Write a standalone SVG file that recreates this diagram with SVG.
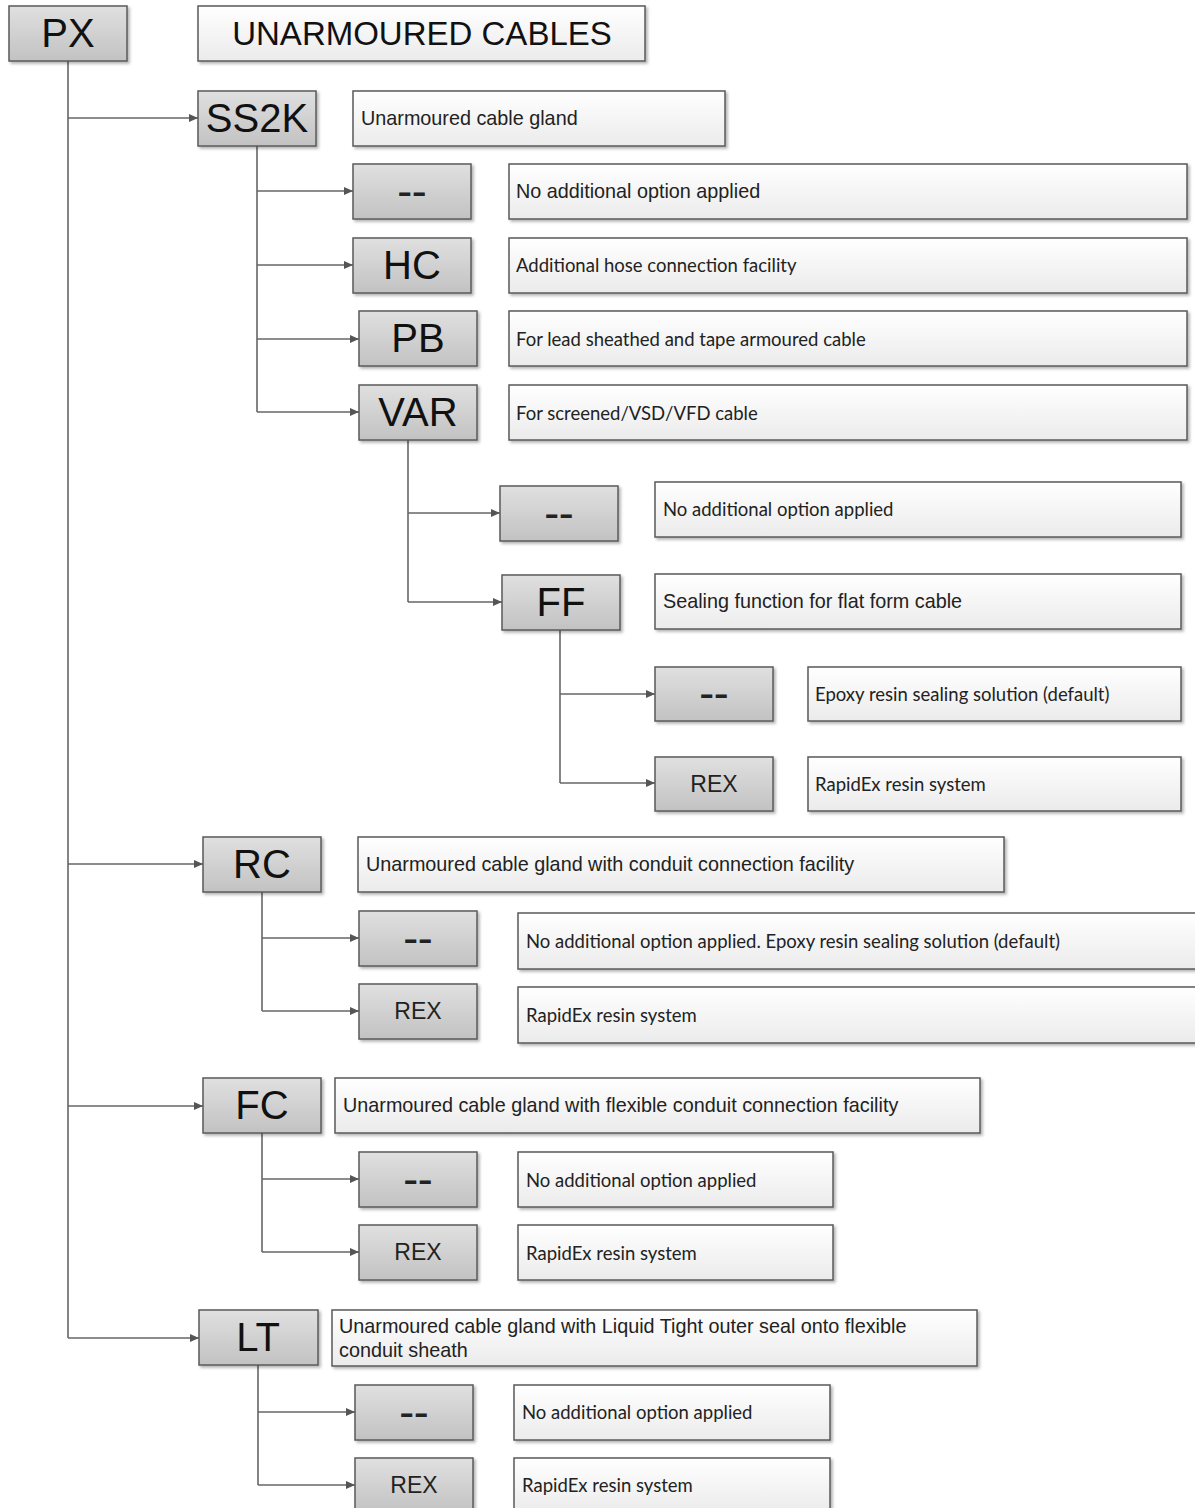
<svg xmlns="http://www.w3.org/2000/svg" width="1195" height="1508" viewBox="0 0 1195 1508">
<defs>
<linearGradient id="gg" x1="0" y1="0" x2="0" y2="1"><stop offset="0" stop-color="#e0e0e0"/><stop offset="1" stop-color="#c2c2c2"/></linearGradient>
<linearGradient id="wg" x1="0" y1="0" x2="0" y2="1"><stop offset="0" stop-color="#ffffff"/><stop offset="1" stop-color="#ebebeb"/></linearGradient>
<filter id="sh" x="-5%" y="-10%" width="115%" height="140%"><feDropShadow dx="2" dy="2" stdDeviation="1.5" flood-color="#000" flood-opacity="0.3"/></filter>
<marker id="ar" markerUnits="userSpaceOnUse" markerWidth="9" markerHeight="8" refX="9" refY="4" orient="auto"><path d="M0,0 L9,4 L0,8 z" fill="#555"/></marker>
<style>
.g{fill:url(#gg);stroke:#5a5a5a;stroke-width:1.5;filter:url(#sh)}
.w{fill:url(#wg);stroke:#5a5a5a;stroke-width:1.5;filter:url(#sh)}
.c{font-family:"Liberation Sans",Arial,sans-serif;font-size:40px;text-anchor:middle;fill:#111}
.dash{font-family:"Liberation Sans",Arial,sans-serif;font-size:30px;font-weight:bold;text-anchor:middle;fill:#222}
.rex{font-family:"Liberation Sans",Arial,sans-serif;font-size:23px;text-anchor:middle;fill:#222}
.t{font-family:"Liberation Sans",Arial,sans-serif;font-size:33px;text-anchor:middle;fill:#111}
.a{font-family:"Liberation Sans",Arial,sans-serif;font-size:19.8px;fill:#222}
.b{font-family:Lato,"Open Sans",sans-serif;font-size:18.5px;fill:#222}
.ln{fill:none;stroke:#666;stroke-width:1.6}
.ln.r{marker-end:url(#ar)}
</style>
</defs>
<g id="connectors">
<path class="ln" d="M68 61 V1338"/>
<path class="ln r" d="M68 118 H198"/>
<path class="ln r" d="M68 864 H203"/>
<path class="ln r" d="M68 1106 H203"/>
<path class="ln r" d="M68 1338 H199"/>
<path class="ln" d="M257 146 V412"/>
<path class="ln r" d="M257 191 H353"/>
<path class="ln r" d="M257 265 H353"/>
<path class="ln r" d="M257 339 H359"/>
<path class="ln r" d="M257 412 H359"/>
<path class="ln" d="M408 440 V602"/>
<path class="ln r" d="M408 513 H500"/>
<path class="ln r" d="M408 602 H502"/>
<path class="ln" d="M560 630 V783"/>
<path class="ln r" d="M560 694 H655"/>
<path class="ln r" d="M560 783 H655"/>
<path class="ln" d="M262 892 V1011"/>
<path class="ln r" d="M262 938 H359"/>
<path class="ln r" d="M262 1011 H359"/>
<path class="ln" d="M262 1133 V1252"/>
<path class="ln r" d="M262 1179 H359"/>
<path class="ln r" d="M262 1252 H359"/>
<path class="ln" d="M258 1365 V1485"/>
<path class="ln r" d="M258 1412 H355"/>
<path class="ln r" d="M258 1485 H355"/>
</g>
<g id="px"><rect class="g" x="9" y="6" width="118" height="55"/><text class="c" x="68" y="47">PX</text></g>
<g id="title"><rect class="w" x="198" y="6" width="447" height="55"/><text class="t" x="422" y="45">UNARMOURED CABLES</text></g>

<g id="ss2k"><rect class="g" x="198" y="91" width="118" height="55"/><text class="c" x="257" y="132">SS2K</text></g>
<g id="ss2k-desc"><rect class="w" x="353" y="91" width="372" height="55"/><text class="a" x="361" y="125">Unarmoured cable gland</text></g>

<g id="ss2k-none"><rect class="g" x="353" y="164" width="118" height="55"/><text class="dash" transform="translate(412,201.5) scale(1.45,1)">--</text></g>
<g id="ss2k-none-desc"><rect class="w" x="509" y="164" width="678" height="55"/><text class="a" x="516" y="198">No additional option applied</text></g>

<g id="hc"><rect class="g" x="353" y="238" width="118" height="55"/><text class="c" x="412" y="279">HC</text></g>
<g id="hc-desc"><rect class="w" x="509" y="238" width="678" height="55"/><text class="b" x="516" y="272">Additional hose connection facility</text></g>

<g id="pb"><rect class="g" x="359" y="311" width="118" height="55"/><text class="c" x="418" y="352">PB</text></g>
<g id="pb-desc"><rect class="w" x="509" y="311" width="678" height="55"/><text class="b" x="516" y="346">For lead sheathed and tape armoured cable</text></g>

<g id="var"><rect class="g" x="359" y="385" width="118" height="55"/><text class="c" x="418" y="426">VAR</text></g>
<g id="var-desc"><rect class="w" x="509" y="385" width="678" height="55"/><text class="b" x="516" y="420">For screened/VSD/VFD cable</text></g>

<g id="var-none"><rect class="g" x="500" y="486" width="118" height="55"/><text class="dash" transform="translate(559,523.5) scale(1.45,1)">--</text></g>
<g id="var-none-desc"><rect class="w" x="655" y="482" width="526" height="55"/><text class="b" x="663" y="516">No additional option applied</text></g>

<g id="ff"><rect class="g" x="502" y="575" width="118" height="55"/><text class="c" x="561" y="616">FF</text></g>
<g id="ff-desc"><rect class="w" x="655" y="574" width="526" height="55"/><text class="a" x="663" y="608">Sealing function for flat form cable</text></g>

<g id="ff-none"><rect class="g" x="655" y="667" width="118" height="54"/><text class="dash" transform="translate(714,704) scale(1.45,1)">--</text></g>
<g id="ff-none-desc"><rect class="w" x="808" y="667" width="373" height="54"/><text class="b" x="815" y="701">Epoxy resin sealing solution (default)</text></g>

<g id="ff-rex"><rect class="g" x="655" y="757" width="118" height="54"/><text class="rex" x="714" y="792">REX</text></g>
<g id="ff-rex-desc"><rect class="w" x="808" y="757" width="373" height="54"/><text class="b" x="815" y="791">RapidEx resin system</text></g>

<g id="rc"><rect class="g" x="203" y="837" width="118" height="55"/><text class="c" x="262" y="878">RC</text></g>
<g id="rc-desc"><rect class="w" x="358" y="837" width="646" height="55"/><text class="a" x="366" y="871">Unarmoured cable gland with conduit connection facility</text></g>

<g id="rc-none"><rect class="g" x="359" y="911" width="118" height="55"/><text class="dash" transform="translate(418,948.5) scale(1.45,1)">--</text></g>
<g id="rc-none-desc"><rect class="w" x="518" y="913" width="690" height="56"/><text class="b" x="526" y="948">No additional option applied. Epoxy resin sealing solution (default)</text></g>

<g id="rc-rex"><rect class="g" x="359" y="984" width="118" height="55"/><text class="rex" x="418" y="1019">REX</text></g>
<g id="rc-rex-desc"><rect class="w" x="518" y="987" width="690" height="56"/><text class="b" x="526" y="1022">RapidEx resin system</text></g>

<g id="fc"><rect class="g" x="203" y="1078" width="118" height="55"/><text class="c" x="262" y="1119">FC</text></g>
<g id="fc-desc"><rect class="w" x="335" y="1078" width="645" height="55"/><text class="a" x="343" y="1112">Unarmoured cable gland with flexible conduit connection facility</text></g>

<g id="fc-none"><rect class="g" x="359" y="1152" width="118" height="55"/><text class="dash" transform="translate(418,1189.5) scale(1.45,1)">--</text></g>
<g id="fc-none-desc"><rect class="w" x="518" y="1152" width="315" height="55"/><text class="b" x="526" y="1187">No additional option applied</text></g>

<g id="fc-rex"><rect class="g" x="359" y="1225" width="118" height="55"/><text class="rex" x="418" y="1260">REX</text></g>
<g id="fc-rex-desc"><rect class="w" x="518" y="1225" width="315" height="55"/><text class="b" x="526" y="1260">RapidEx resin system</text></g>

<g id="lt"><rect class="g" x="199" y="1310" width="119" height="55"/><text class="c" x="258" y="1351">LT</text></g>
<g id="lt-desc"><rect class="w" x="332" y="1310" width="645" height="56"/><text class="a" x="339" y="1333">Unarmoured cable gland with Liquid Tight outer seal onto flexible</text><text class="a" x="339" y="1357">conduit sheath</text></g>

<g id="lt-none"><rect class="g" x="355" y="1385" width="118" height="55"/><text class="dash" transform="translate(414,1422.5) scale(1.45,1)">--</text></g>
<g id="lt-none-desc"><rect class="w" x="514" y="1385" width="316" height="55"/><text class="b" x="522" y="1419">No additional option applied</text></g>

<g id="lt-rex"><rect class="g" x="355" y="1458" width="118" height="55"/><text class="rex" x="414" y="1493">REX</text></g>
<g id="lt-rex-desc"><rect class="w" x="514" y="1458" width="316" height="55"/><text class="b" x="522" y="1492">RapidEx resin system</text></g>
</svg>
